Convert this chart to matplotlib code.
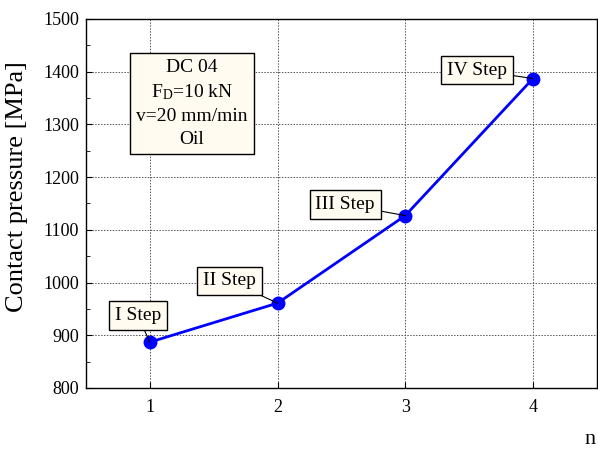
import matplotlib
matplotlib.use("Agg")
import matplotlib.pyplot as plt
from matplotlib.ticker import MultipleLocator

plt.rcParams['font.family'] = ['Liberation Serif', 'DejaVu Serif']
plt.rcParams['mathtext.fontset'] = 'custom'
plt.rcParams['mathtext.rm'] = 'Liberation Serif'
plt.rcParams['mathtext.it'] = 'Liberation Serif:italic'

n = [1, 2, 3, 4]
pressure = [887, 961, 1127, 1387]
step_labels = ["I Step", "II Step", "III Step", "IV Step"]
label_pos = [(0.906, 937), (1.625, 1003), (2.53, 1148), (3.56, 1403)]

fig = plt.figure(figsize=(5.98, 4.5), dpi=100)
ax = fig.add_axes([0.1438, 0.1378, 0.8542, 0.82])

ax.plot(n, pressure, color='#0000FF', lw=2, marker='o', markersize=9,
        markerfacecolor='#0000FF', markeredgecolor='#0000FF', zorder=3)

ax.set_xlim(0.5, 4.5)
ax.set_ylim(800, 1500)
ax.set_xticks(n)
ax.yaxis.set_major_locator(MultipleLocator(100))
ax.yaxis.set_minor_locator(MultipleLocator(50))
ax.tick_params(axis='both', which='both', direction='in', labelsize=13)
ax.tick_params(axis='y', which='major', length=4, pad=5)
ax.tick_params(axis='y', which='minor', length=3)
ax.tick_params(axis='x', which='major', length=4, pad=8)
ax.grid(True, which='major', linestyle=(0, (1.5, 1.5)), color='#555555', lw=0.7)
for s in ax.spines.values():
    s.set_linewidth(1.0)

ax.set_ylabel("Contact pressure [MPa]", fontsize=19)
ax.yaxis.set_label_coords(-0.113, 0.545)
fig.text(590/598, 1-440/450, "n", fontsize=16, ha='center', va='center')

box = dict(boxstyle='square,pad=0.3', fc='#FFFBF0', ec='black', lw=1)
for xi, yi, lab, (lx, ly) in zip(n, pressure, step_labels, label_pos):
    ax.annotate(lab, xy=(xi, yi), xytext=(lx, ly), fontsize=14,
                ha='center', va='center', bbox=box,
                arrowprops=dict(arrowstyle='-', color='black', lw=0.8,
                                shrinkA=0, shrinkB=0), zorder=4)

ax.text(1.33, 1340, "DC 04\n$\\mathregular{F_D}$=10 kN\nv=20 mm/min\nOil",
        fontsize=14, ha='center', va='center', linespacing=1.45,
        bbox=dict(boxstyle='square,pad=0.3', fc='#FFFBF0', ec='black', lw=1),
        zorder=4)

fig.savefig("out.png", dpi=100)
